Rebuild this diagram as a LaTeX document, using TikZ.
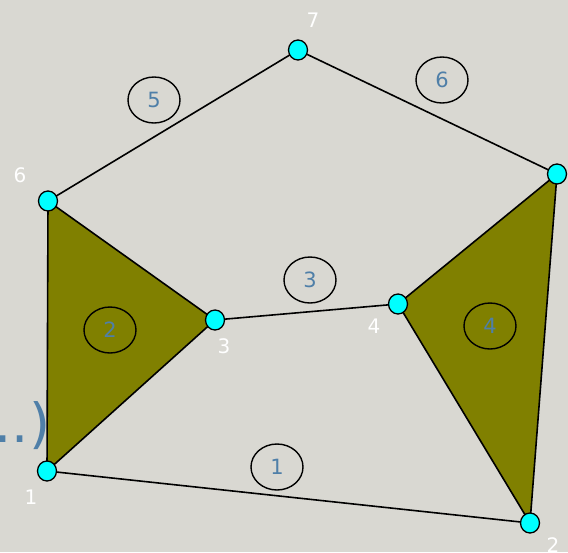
\documentclass[tikz,border=0pt]{standalone}
\usepackage{fontspec}
\setmainfont{DejaVu Sans}
\usetikzlibrary{shapes.geometric}
\definecolor{paper}{HTML}{D9D8D2}
\definecolor{leaf}{HTML}{808000}
\definecolor{ink}{HTML}{4F7FA8}
\definecolor{dotfill}{HTML}{00FFFF}
\tikzset{
  vert/.style={ellipse, draw, line width=1.3pt, fill=dotfill, minimum width=19pt, minimum height=20pt, inner sep=0pt},
  elabel/.style={ellipse, draw, line width=1.4pt, minimum width=52pt, minimum height=46pt, inner sep=0pt, text=ink, font=\fontsize{21}{24}\selectfont},
  vlabel/.style={text=white, font=\fontsize{20}{24}\selectfont, inner sep=0pt}
}
\begin{document}
\begin{tikzpicture}[x=1pt, y=-1pt, line width=1.6pt]
  \fill[paper] (0,0) rectangle (568,552);
  \useasboundingbox (0,0) rectangle (568,552);
  \coordinate (p1) at (47,471);
  \coordinate (p2) at (530,523);
  \coordinate (p3) at (215,320);
  \coordinate (p4) at (398,304);
  \coordinate (p5) at (557,174);
  \coordinate (p6) at (48,201);
  \coordinate (p7) at (298,50);
  \filldraw[fill=leaf] (p6) -- (p3) -- (p1) -- cycle;
  \filldraw[fill=leaf] (p4) -- (p5) -- (p2) -- cycle;
  \draw (p1) -- (p2);
  \draw (p3) -- (p4);
  \draw (p6) -- (p7) -- (p5);
  \node[vert] (v1) at (p1) {};
  \node[vert] (v2) at (p2) {};
  \node[vert] (v3) at (p3) {};
  \node[vert] (v4) at (p4) {};
  \node[vert] (v5) at (p5) {};
  \node[vert] (v6) at (p6) {};
  \node[vert] (v7) at (p7) {};
  \node[vlabel] (n1) at (31,497) {1};
  \node[vlabel] (n2) at (553,545) {2};
  \node[vlabel] (n3) at (224,346) {3};
  \node[vlabel] (n4) at (374,326) {4};
  \node[vlabel] (n6) at (20,175) {6};
  \node[vlabel] (n7) at (313,20) {7};
  \node[elabel] (e1) at (277,467) {1};
  \node[elabel] (e2) at (110,330) {2};
  \node[elabel] (e3) at (310,280) {3};
  \node[elabel] (e4) at (490,326) {4};
  \node[elabel] (e5) at (154,100) {5};
  \node[elabel] (e6) at (442,80) {6};
  \node[anchor=base west, text=ink, font=\fontsize{54}{60}\selectfont, inner sep=0pt] (dots) at (-6,442) {..)};
\end{tikzpicture}
\end{document}
